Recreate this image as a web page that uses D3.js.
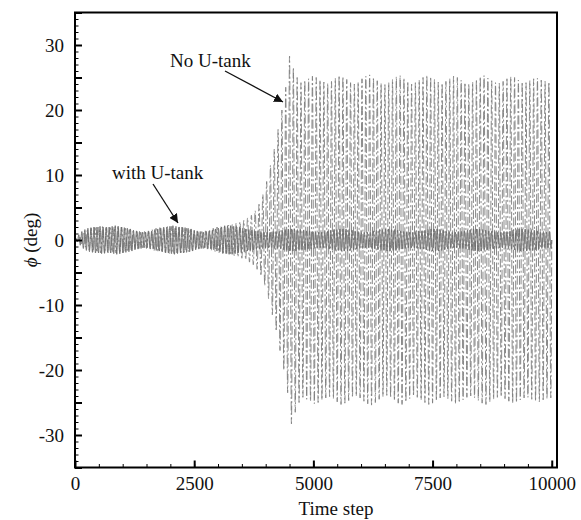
<!DOCTYPE html>
<html>
<head>
<meta charset="utf-8">
<script src="https://cdn.jsdelivr.net/npm/d3@7"></script>
<style>
  html, body { margin: 0; padding: 0; background: #fff; }
  svg { display: block; font-family: "Liberation Serif", "Times New Roman", serif; }
</style>
</head>
<body>
<svg id="chart" width="581" height="520"></svg>
<script>
// Roll angle time histories: extremum amplitude (deg) of each oscillation cycle.
// Each cycle contributes one positive and one negative peak of that amplitude.
const noTankPeaks = [
  0.2, 0.6, 1.1, 1.5, 1.8,
  1.9, 2.0, 2.1, 2.0, 1.9, 2.0, 2.1, 2.0, 1.8,
  1.6, 1.4, 1.3, 1.2, 1.3, 1.4, 1.6, 1.8,
  1.9, 2.0, 2.1, 2.1, 2.0, 2.1, 1.9, 1.8, 1.6,
  1.4, 1.3, 1.3, 1.4, 1.6, 1.8,
  2.0, 2.1, 2.2, 2.3, 2.4,
  2.6, 2.8, 3.0, 3.4, 3.8, 4.5, 5.5, 7.0, 9.0, 11.5,
  14.0, 17.0, 20.0, 23.5, 28.3, 26.5, 25.0, 24.2,
  24.5, 24.8, 25.2, 25.0, 24.6, 24.3, 24.1, 24.4, 24.9, 25.3,
  25.1, 24.7, 24.2, 24.0, 24.3, 24.8, 25.2, 25.4, 25.0, 24.5,
  24.1, 23.9, 24.2, 24.7, 25.1, 25.3, 24.9, 24.4, 24.0, 24.2,
  24.6, 25.0, 25.3, 25.1, 24.7, 24.3, 24.1, 24.4, 24.8, 25.2,
  25.0, 24.6, 24.2, 24.0, 24.3, 24.7, 25.1, 25.3, 24.9, 24.5,
  24.2, 24.1, 24.4, 24.8, 25.1, 25.0, 24.6, 24.3, 24.2, 24.5,
  24.8, 24.9, 24.6, 24.4, 24.3
];

const withTankPeaks = [
  0.3, 0.8, 1.3, 1.6, 1.8,
  1.9, 2.0, 2.0, 2.1, 2.0, 1.9, 2.0, 2.1, 2.2, 2.1, 2.0, 1.9, 1.8,
  1.7, 1.5, 1.4, 1.3, 1.2, 1.2, 1.3, 1.4, 1.6,
  1.7, 1.8, 1.9, 2.0, 2.1, 2.2, 2.1, 2.0, 2.0, 1.9, 1.8,
  1.7, 1.5, 1.4, 1.3, 1.2, 1.3, 1.4, 1.5, 1.7,
  1.8, 2.0, 2.1, 2.2, 2.2, 2.1, 2.0, 1.9, 1.8, 1.7,
  1.6, 1.5, 1.4, 1.4, 1.3, 1.2, 1.2, 1.2, 1.3, 1.3,
  1.4, 1.5, 1.6, 1.7, 1.7, 1.7, 1.6, 1.6, 1.5, 1.4,
  1.4, 1.3, 1.2, 1.2, 1.2, 1.3, 1.4, 1.5, 1.6, 1.6,
  1.7, 1.7, 1.7, 1.6, 1.5, 1.4, 1.3, 1.3, 1.2, 1.2,
  1.3, 1.4, 1.5, 1.6, 1.6, 1.7, 1.7, 1.6, 1.6, 1.5,
  1.4, 1.3, 1.2, 1.2, 1.2, 1.3, 1.4, 1.4, 1.5, 1.6,
  1.7, 1.7, 1.7, 1.6, 1.5, 1.4, 1.3, 1.2, 1.2, 1.3,
  1.3, 1.4, 1.5, 1.6, 1.7, 1.7, 1.7, 1.6, 1.5, 1.4,
  1.4, 1.3, 1.2, 1.2, 1.3, 1.3, 1.4, 1.5, 1.6, 1.7,
  1.7, 1.7, 1.6, 1.6, 1.5, 1.4, 1.3, 1.3, 1.2, 1.3
];

const totalSteps = 10000;
const xTickLabels = [0, 2500, 5000, 7500, 10000];
const yTickLabels = [-30, -20, -10, 0, 10, 20, 30];

const svg = d3.select("#chart");
const margin = { left: 75, right: 24, top: 12.5, bottom: 52.5 };
const W = 581, H = 520;

const x = d3.scaleLinear().domain([0, 10110]).range([margin.left, W - margin.right]);
const y = d3.scaleLinear().domain([-35, 35]).range([H - margin.bottom, margin.top]);

const defs = svg.append("defs");
defs.append("clipPath").attr("id", "plotClip")
  .append("rect")
  .attr("x", margin.left).attr("y", margin.top)
  .attr("width", W - margin.left - margin.right)
  .attr("height", H - margin.top - margin.bottom);

// Turn a list of cycle amplitudes into alternating peak/trough points
function cyclePoints(peaks) {
  const period = totalSteps / peaks.length;
  const pts = [[0, 0]];
  peaks.forEach((a, i) => {
    pts.push([(i + 0.25) * period, a]);
    pts.push([(i + 0.75) * period, -a]);
  });
  pts.push([totalSteps, 0]);
  return pts;
}

const lineGen = d3.line().x(d => x(d[0])).y(d => y(d[1])).curve(d3.curveMonotoneX);

const series = svg.append("g").attr("clip-path", "url(#plotClip)");

series.append("path")
  .datum(cyclePoints(noTankPeaks))
  .attr("d", lineGen)
  .attr("fill", "none")
  .attr("stroke", "#7c7c7c")
  .attr("stroke-width", 0.9)
  .attr("stroke-dasharray", "9,2.5,2,2.5");

series.append("path")
  .datum(cyclePoints(withTankPeaks))
  .attr("d", lineGen)
  .attr("fill", "none")
  .attr("stroke", "#6a6a6a")
  .attr("stroke-width", 0.9);

// Tick labels use a plain hyphen for negatives
const fmt = d => String(d);

function styleAxis(g) {
  g.select(".domain").remove();
  g.selectAll(".tick line").attr("stroke", "#000");
}

// x axis: minor every 500, major every 2500 (ticks point inward)
svg.append("g")
  .attr("transform", `translate(0,${y(-35)})`)
  .call(d3.axisBottom(x).tickValues(d3.range(0, 10001, 500)).tickSize(-3.5).tickFormat(""))
  .call(styleAxis);

svg.append("g")
  .attr("transform", `translate(0,${y(-35)})`)
  .call(d3.axisBottom(x).tickValues(xTickLabels).tickSize(-7).tickPadding(9).tickFormat(fmt))
  .call(styleAxis)
  .call(g => g.selectAll(".tick line").attr("stroke-width", 2))
  .call(g => g.selectAll(".tick text").attr("font-size", 19).attr("fill", "#111")
    .attr("font-family", "Liberation Serif, serif"));

// y axis: minor every 1, medium every 5, labels every 10
svg.append("g")
  .attr("transform", `translate(${x(0)},0)`)
  .call(d3.axisLeft(y).tickValues(d3.range(-35, 35.1, 1)).tickSize(-3.5).tickFormat(""))
  .call(styleAxis);

svg.append("g")
  .attr("transform", `translate(${x(0)},0)`)
  .call(d3.axisLeft(y).tickValues(d3.range(-35, 35.1, 5)).tickSize(-7).tickFormat(""))
  .call(styleAxis)
  .call(g => g.selectAll(".tick line").attr("stroke-width", 2));

svg.append("g")
  .attr("transform", `translate(${x(0)},0)`)
  .call(d3.axisLeft(y).tickValues(yTickLabels).tickSize(0).tickPadding(11).tickFormat(fmt))
  .call(styleAxis)
  .call(g => g.selectAll(".tick text").attr("font-size", 19).attr("fill", "#111")
    .attr("font-family", "Liberation Serif, serif"));

// Frame
svg.append("rect")
  .attr("x", margin.left).attr("y", margin.top)
  .attr("width", W - margin.left - margin.right)
  .attr("height", H - margin.top - margin.bottom)
  .attr("fill", "none").attr("stroke", "#000").attr("stroke-width", 2);

// Axis titles
svg.append("text")
  .attr("x", 336).attr("y", 515)
  .attr("text-anchor", "middle").attr("font-size", 19).attr("fill", "#111")
  .text("Time step");

const yTitle = svg.append("text")
  .attr("transform", `translate(37,${y(0)}) rotate(-90)`)
  .attr("text-anchor", "middle").attr("font-size", 19).attr("fill", "#111");
yTitle.append("tspan").attr("font-style", "italic").text("ϕ");
yTitle.append("tspan").text(" (deg)");

// Annotations with arrows
defs.append("marker")
  .attr("id", "arrowHead")
  .attr("viewBox", "0 0 10 10")
  .attr("refX", 10).attr("refY", 5)
  .attr("markerWidth", 9).attr("markerHeight", 9)
  .attr("markerUnits", "userSpaceOnUse")
  .attr("orient", "auto")
  .append("path").attr("d", "M0,0 L10,5 L0,10 Z").attr("fill", "#111");

svg.append("text").attr("x", 170).attr("y", 67)
  .attr("font-size", 19).attr("fill", "#111").text("No U-tank");
svg.append("line")
  .attr("x1", 225).attr("y1", 71).attr("x2", 283).attr("y2", 102)
  .attr("stroke", "#111").attr("stroke-width", 1.3)
  .attr("marker-end", "url(#arrowHead)");

svg.append("text").attr("x", 112).attr("y", 179)
  .attr("font-size", 19).attr("fill", "#111").text("with U-tank");
svg.append("line")
  .attr("x1", 153).attr("y1", 184).attr("x2", 178).attr("y2", 223)
  .attr("stroke", "#111").attr("stroke-width", 1.3)
  .attr("marker-end", "url(#arrowHead)");
</script>
</body>
</html>
